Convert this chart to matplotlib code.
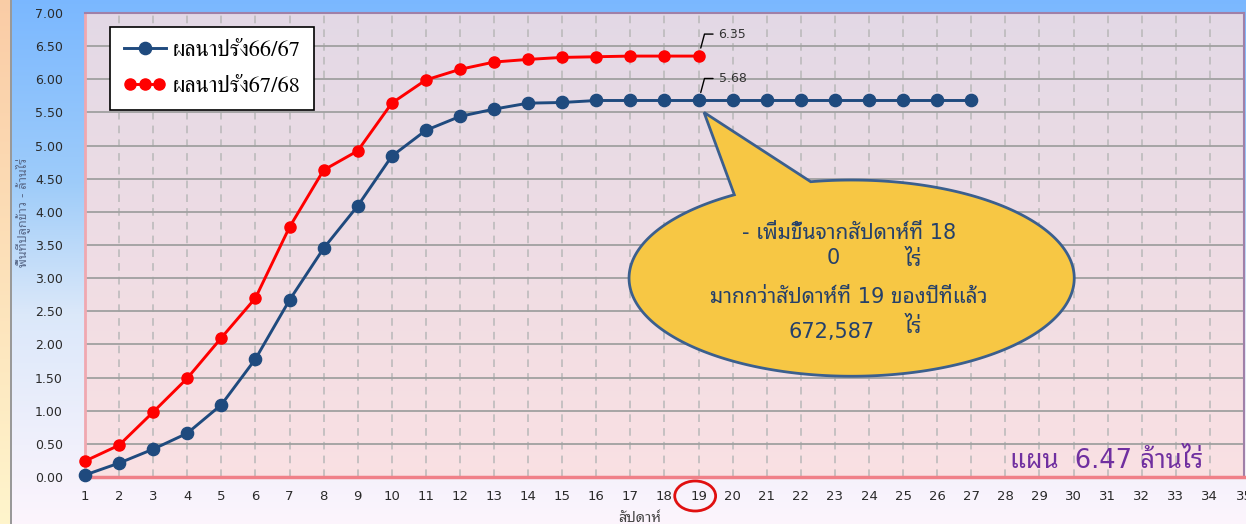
import numpy as np
import matplotlib
matplotlib.use('Agg')
import matplotlib.pyplot as plt
from matplotlib import font_manager
from matplotlib.ft2font import FT2Font
from matplotlib.patches import Ellipse, Polygon
from matplotlib.legend_handler import HandlerLine2D
from matplotlib.transforms import blended_transform_factory

# ---- data ----
weeks = list(range(1, 36))
weeks_6667 = list(range(1, 28))
area_6667 = [0.03, 0.21, 0.42, 0.66, 1.09, 1.78, 2.67, 3.45, 4.09, 4.84,
             5.23, 5.44, 5.55, 5.64, 5.65, 5.68, 5.68, 5.68, 5.68, 5.68,
             5.68, 5.68, 5.68, 5.68, 5.68, 5.68, 5.68]
weeks_6768 = list(range(1, 20))
area_6768 = [0.24, 0.48, 0.98, 1.49, 2.10, 2.70, 3.77, 4.63, 4.92, 5.64,
             5.99, 6.15, 6.26, 6.30, 6.33, 6.34, 6.35, 6.35, 6.35]
label_6667 = 'ผลนาปรัง66/67'
label_6768 = 'ผลนาปรัง67/68'
current_week = 19
plan_text = 'แผน  6.47 ล้านไร่'
callout_lines = ['- เพิ่มขึ้นจากสัปดาห์ที่ 18', '0', 'ไร่',
                 'มากกว่าสัปดาห์ที่ 19 ของปีที่แล้ว', '672,587', 'ไร่']
y_label = 'พื้นที่ปลูกข้าว - ล้านไร่'
x_label = 'สัปดาห์'

# หา font ที่มีอักษรไทย
cands = set()
for f in font_manager.fontManager.ttflist:
    try:
        cmap = FT2Font(f.fname).get_charmap()
    except Exception:
        continue
    if ord('ผ') in cmap and ord('ั') in cmap:
        cands.add(f.name)

def pick(prefer):
    for p in prefer:
        if p in cands:
            return p
    return sorted(cands)[0] if cands else 'DejaVu Sans'

thai_sans = pick(['Noto Sans Thai Looped', 'Loma', 'Noto Sans Thai'])
thai_serif = pick(['FreeSerif', 'Noto Serif Thai', 'Sarabun', 'Noto Sans Thai'])
plt.rcParams['font.family'] = ['DejaVu Sans', thai_sans]

fig = plt.figure(figsize=(12.46, 5.24), dpi=100)

# พื้นหลังไล่สี
H, W = 524, 1246
stops = np.array([0.0, 0.35, 0.6, 1.0])
cols = np.array([[0.48, 0.72, 1.00], [0.62, 0.80, 0.98], [0.86, 0.91, 0.98], [0.99, 0.96, 0.99]])
t = np.linspace(0, 1, H)
col = np.stack([np.interp(t, stops, cols[:, i]) for i in range(3)], axis=1)
bgimg = np.repeat(col[:, None, :], W, axis=1)
peach_top = np.array([0.98, 0.80, 0.65])
peach_bot = np.array([1.0, 0.96, 0.80])
peach = peach_top[None, :] * (1 - t[:, None]) + peach_bot[None, :] * t[:, None]
bgimg[:, :10, :] = peach[:, None, :]
bgimg[:, 10:12, :] = 0.6
bg = fig.add_axes([0, 0, 1, 1], zorder=-10)
bg.imshow(bgimg, extent=[0, 1, 0, 1], aspect='auto', interpolation='bilinear')
bg.axis('off')

ax = fig.add_axes([85 / W, 1 - 477 / H, (1244 - 85) / W, 464 / H])
ax.set_facecolor('none')

# plot area gradient
top_c = np.array([0.89, 0.85, 0.90])
bot_c = np.array([0.98, 0.88, 0.89])
g = np.linspace(0, 1, 200)[:, None]
pimg = top_c[None, :] * (1 - g) + bot_c[None, :] * g
pimg = np.repeat(pimg[:, None, :], 10, axis=1)
ax.imshow(pimg, extent=[1, 35, 0, 7], aspect='auto', zorder=0, interpolation='bilinear')

ax.set_xlim(1, 35)
ax.set_ylim(0, 7)
ax.set_xticks(weeks)
ax.set_yticks(np.arange(0, 7.01, 0.5))
ax.set_yticklabels(['%.2f' % v for v in np.arange(0, 7.01, 0.5)])
ax.tick_params(axis='both', length=0, colors='#2a2a2a')
ax.tick_params(axis='x', labelsize=9.5, pad=9)
ax.tick_params(axis='y', labelsize=9, pad=16)
ax.grid(axis='y', color='#a0a0a0', lw=1.3, ls='-', zorder=1)
ax.grid(axis='x', color='#b8b8b8', lw=1.1, ls=(0, (5, 4)), zorder=1)
ax.set_axisbelow(True)
for s in ['top', 'right']:
    ax.spines[s].set_color('#a080a8')
    ax.spines[s].set_linewidth(1.5)
ax.spines['left'].set_color('#f0a8b0')
ax.spines['left'].set_linewidth(2)
ax.spines['bottom'].set_color('#f08088')
ax.spines['bottom'].set_linewidth(2.5)

l1, = ax.plot(weeks_6667, area_6667, color='#1f4a7e', lw=2.1, marker='o', ms=8.8,
              label=label_6667, zorder=4, clip_on=False)
l2, = ax.plot(weeks_6768, area_6768, color='#ff0000', lw=2.1, marker='o', ms=8,
              label=label_6768, zorder=5, clip_on=False)

leg = ax.legend(handles=[l1, l2], loc='upper left', bbox_to_anchor=(0.022, 0.97),
                borderaxespad=0, prop={'family': [thai_serif, 'DejaVu Serif'], 'size': 16},
                fancybox=False, edgecolor='black',
                framealpha=1, handlelength=1.9, labelspacing=0.7, borderpad=0.6,
                handletextpad=0.3, numpoints=1,
                handler_map={l2: HandlerLine2D(numpoints=3)})
leg.get_frame().set_linewidth(1.2)
leg.set_zorder(6)

# ป้ายค่า สัปดาห์ที่ 19
for xs, ys in [(weeks_6768, area_6768), (weeks_6667, area_6667)]:
    i = xs.index(current_week)
    ax.annotate('%.2f' % ys[i], xy=(xs[i], ys[i]), xytext=(20, 22),
                textcoords='offset pixels', ha='left', va='center', fontsize=9,
                color='#333333', zorder=6,
                arrowprops=dict(arrowstyle='-', color='black', lw=1,
                                connectionstyle='angle,angleA=0,angleB=75',
                                shrinkA=2, shrinkB=6))

# callout ellipse
cx, cy, a, b = 23.49, 3.00, 6.53, 1.48
i19 = weeks_6667.index(current_week)
tip = (weeks_6667[i19] + 0.16, area_6667[i19] - 0.18)
t1, t2 = np.deg2rad(100.6), np.deg2rad(121.8)
tt = np.linspace(t2, t1 + 2 * np.pi, 300)
pts = np.column_stack([cx + a * np.cos(tt), cy + b * np.sin(tt)])
pts = np.vstack([pts, tip])
ax.add_patch(Polygon(pts, closed=True, facecolor='#f7c744', edgecolor='#3b5f8e',
                     lw=2, zorder=7))
tc = '#25406a'
fs = 15
ax.text(23.40, 3.68, callout_lines[0], ha='center', va='center', fontsize=fs, color=tc, zorder=8)
ax.text(22.96, 3.30, callout_lines[1], ha='center', va='center', fontsize=fs, color=tc, zorder=8)
ax.text(25.30, 3.27, callout_lines[2], ha='center', va='center', fontsize=fs, color=tc, zorder=8)
ax.text(23.40, 2.71, callout_lines[3], ha='center', va='center', fontsize=fs, color=tc, zorder=8)
ax.text(22.90, 2.18, callout_lines[4], ha='center', va='center', fontsize=fs, color=tc, zorder=8)
ax.text(25.30, 2.27, callout_lines[5], ha='center', va='center', fontsize=fs, color=tc, zorder=8)

ax.text(28.15, 0.24, plan_text, ha='left', va='center', fontsize=18.5, color='#7030a0', zorder=8)

# วงกลมแดงที่สัปดาห์ 19
trans = blended_transform_factory(ax.transData, fig.transFigure)
ax.add_patch(Ellipse((current_week - 0.1, 1 - 496 / H), 1.2, 30 / H, transform=trans,
                     fill=False, edgecolor='#e01010', lw=2, clip_on=False, zorder=9))

fig.text(23 / W, 1 - 212 / H, y_label, rotation=90, ha='center', va='center',
         fontsize=9, color='#5a6a8a')
fig.text(640 / W, 1 - 518 / H, x_label, ha='center', va='center', fontsize=10.5, color='#444444')

fig.savefig('out.png', dpi=100)
